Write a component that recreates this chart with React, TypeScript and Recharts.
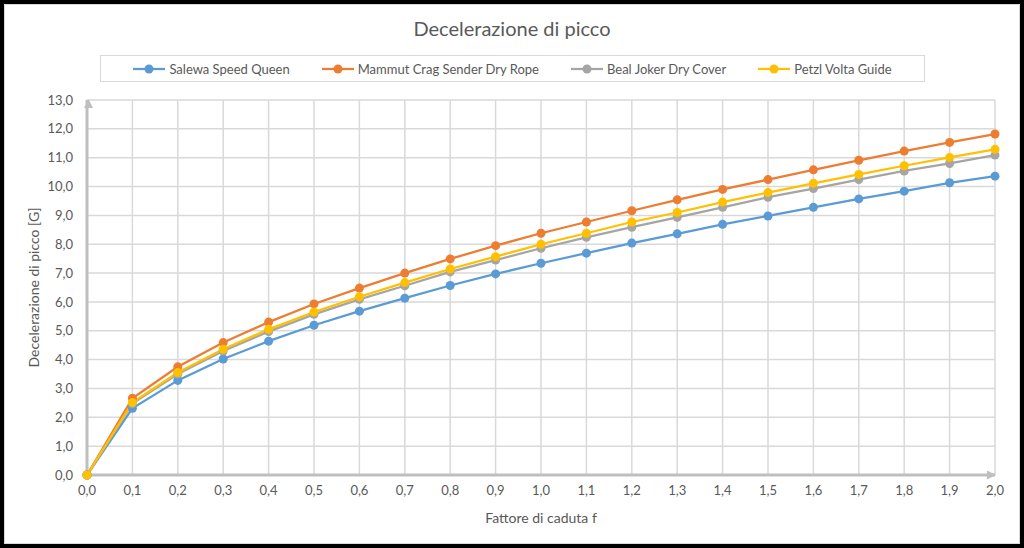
import React from 'react';
import { LineChart, Line, XAxis, YAxis, CartesianGrid, ReferenceDot, Label } from 'recharts';

const fValues = [0, 0.1, 0.2, 0.3, 0.4, 0.5, 0.6, 0.7, 0.8, 0.9, 1.0, 1.1, 1.2, 1.3, 1.4, 1.5, 1.6, 1.7, 1.8, 1.9, 2.0];
const salewa = [0, 2.31, 3.28, 4.02, 4.64, 5.19, 5.68, 6.13, 6.57, 6.97, 7.34, 7.69, 8.04, 8.36, 8.69, 8.98, 9.28, 9.57, 9.84, 10.13, 10.36];
const mammut = [0, 2.66, 3.75, 4.59, 5.3, 5.93, 6.48, 7.0, 7.49, 7.95, 8.38, 8.77, 9.16, 9.54, 9.9, 10.24, 10.58, 10.91, 11.23, 11.53, 11.82];
const beal = [0, 2.48, 3.5, 4.3, 4.97, 5.57, 6.09, 6.56, 7.04, 7.45, 7.86, 8.24, 8.59, 8.93, 9.28, 9.63, 9.93, 10.24, 10.54, 10.8, 11.09];
const petzl = [0, 2.51, 3.55, 4.36, 5.05, 5.65, 6.18, 6.67, 7.14, 7.57, 8.0, 8.38, 8.77, 9.1, 9.46, 9.79, 10.11, 10.42, 10.72, 11.01, 11.29];
const yTicks = [0, 1, 2, 3, 4, 5, 6, 7, 8, 9, 10, 11, 12, 13];

const seriesNames = ['Salewa Speed Queen', 'Mammut Crag Sender Dry Rope', 'Beal Joker Dry Cover', 'Petzl Volta Guide'];
const seriesKeys = ['salewa', 'mammut', 'beal', 'petzl'];
const seriesColors = ['#5B9BD5', '#ED7D31', '#A5A5A5', '#FFC000'];

const data = fValues.map((f, i) => ({
  f,
  salewa: salewa[i],
  mammut: mammut[i],
  beal: beal[i],
  petzl: petzl[i],
}));

const FONT = 'Lato, "Open Sans", sans-serif';
const TEXT = '#595959';
const fmt = (v: number) => v.toFixed(1).replace('.', ',');

const ArrowRight = (p: any) => {
  const { cx, cy } = p;
  return <path d={`M${cx + 1},${cy} L${cx - 8},${cy - 4.5} L${cx - 8},${cy + 4.5} Z`} fill="#BFBFBF" />;
};
const ArrowUp = (p: any) => {
  const { cx, cy } = p;
  return <path d={`M${cx + 1.5},${cy - 1} L${cx - 3},${cy + 8} L${cx + 6},${cy + 8} Z`} fill="#BFBFBF" />;
};

export default function App() {
  return (
    <div
      style={{
        position: 'fixed',
        left: 0,
        top: 0,
        width: 1024,
        height: 548,
        background: '#fff',
        fontFamily: FONT,
      }}
    >
      <div
        style={{
          position: 'absolute',
          left: 0,
          top: 0,
          width: 1024,
          height: 548,
          boxSizing: 'border-box',
          border: '4px solid #000',
          zIndex: 3,
          pointerEvents: 'none',
        }}
      >
        <div style={{ position: 'absolute', inset: 0, border: '1px solid #d9d9d9' }} />
      </div>
      <div
        style={{
          position: 'absolute',
          left: 0,
          width: 1024,
          top: 16,
          lineHeight: '24px',
          fontSize: 20,
          color: TEXT,
          textAlign: 'center',
          zIndex: 2,
        }}
      >
        Decelerazione di picco
      </div>
      <div
        style={{
          position: 'absolute',
          left: 100,
          top: 55,
          width: 825,
          height: 27,
          boxSizing: 'border-box',
          border: '1.5px solid #d9d9d9',
          display: 'flex',
          alignItems: 'center',
          justifyContent: 'center',
          gap: 32,
          fontSize: 13,
          color: TEXT,
          zIndex: 2,
          background: '#fff',
        }}
      >
        {seriesNames.map((n, i) => (
          <div key={n} style={{ display: 'flex', alignItems: 'center' }}>
            <svg width={32} height={12} style={{ marginRight: 4 }}>
              <line x1={0} y1={6} x2={32} y2={6} stroke={seriesColors[i]} strokeWidth={2.25} />
              <circle cx={16} cy={6} r={4.5} fill={seriesColors[i]} />
            </svg>
            <span>{n}</span>
          </div>
        ))}
      </div>
      <div style={{ position: 'absolute', left: 0, top: 0 }}>
        <LineChart width={1024} height={548} data={data} margin={{ top: 100, right: 29, bottom: 23, left: 27 }}>
          <CartesianGrid stroke="#D9D9D9" strokeWidth={1.5} />
          <XAxis
            dataKey="f"
            type="number"
            domain={[0, 2]}
            ticks={fValues}
            tickFormatter={fmt}
            interval={0}
            tickLine={false}
            tickSize={0}
            tickMargin={11}
            height={50}
            axisLine={{ stroke: '#BFBFBF', strokeWidth: 3 }}
            tick={{ fill: TEXT, fontSize: 13, fontFamily: FONT }}
          >
            <Label value="Fattore di caduta f" position="insideBottom" offset={2} fill={TEXT} fontSize={14} fontFamily={FONT} />
          </XAxis>
          <YAxis
            type="number"
            domain={[0, 13]}
            ticks={yTicks}
            tickFormatter={fmt}
            interval={0}
            width={60}
            tickLine={false}
            tickSize={0}
            tickMargin={14}
            axisLine={{ stroke: '#BFBFBF', strokeWidth: 3 }}
            tick={{ fill: TEXT, fontSize: 13, fontFamily: FONT }}
          >
            <Label
              value="Decelerazione di picco [G]"
              angle={-90}
              position="insideLeft"
              offset={7}
              fill={TEXT}
              fontSize={14}
              fontFamily={FONT}
              style={{ textAnchor: 'middle' }}
            />
          </YAxis>
          <ReferenceDot x={2} y={0} r={0} ifOverflow="visible" shape={ArrowRight} />
          <ReferenceDot x={0} y={13} r={0} ifOverflow="visible" shape={ArrowUp} />
          {seriesKeys.map((k, i) => (
            <Line
              key={k}
              type="linear"
              dataKey={k}
              name={seriesNames[i]}
              stroke={seriesColors[i]}
              strokeWidth={2.25}
              dot={{ r: 4.5, fill: seriesColors[i], stroke: 'none', strokeWidth: 0 }}
              activeDot={false}
              isAnimationActive={false}
            />
          ))}
        </LineChart>
      </div>
    </div>
  );
}
